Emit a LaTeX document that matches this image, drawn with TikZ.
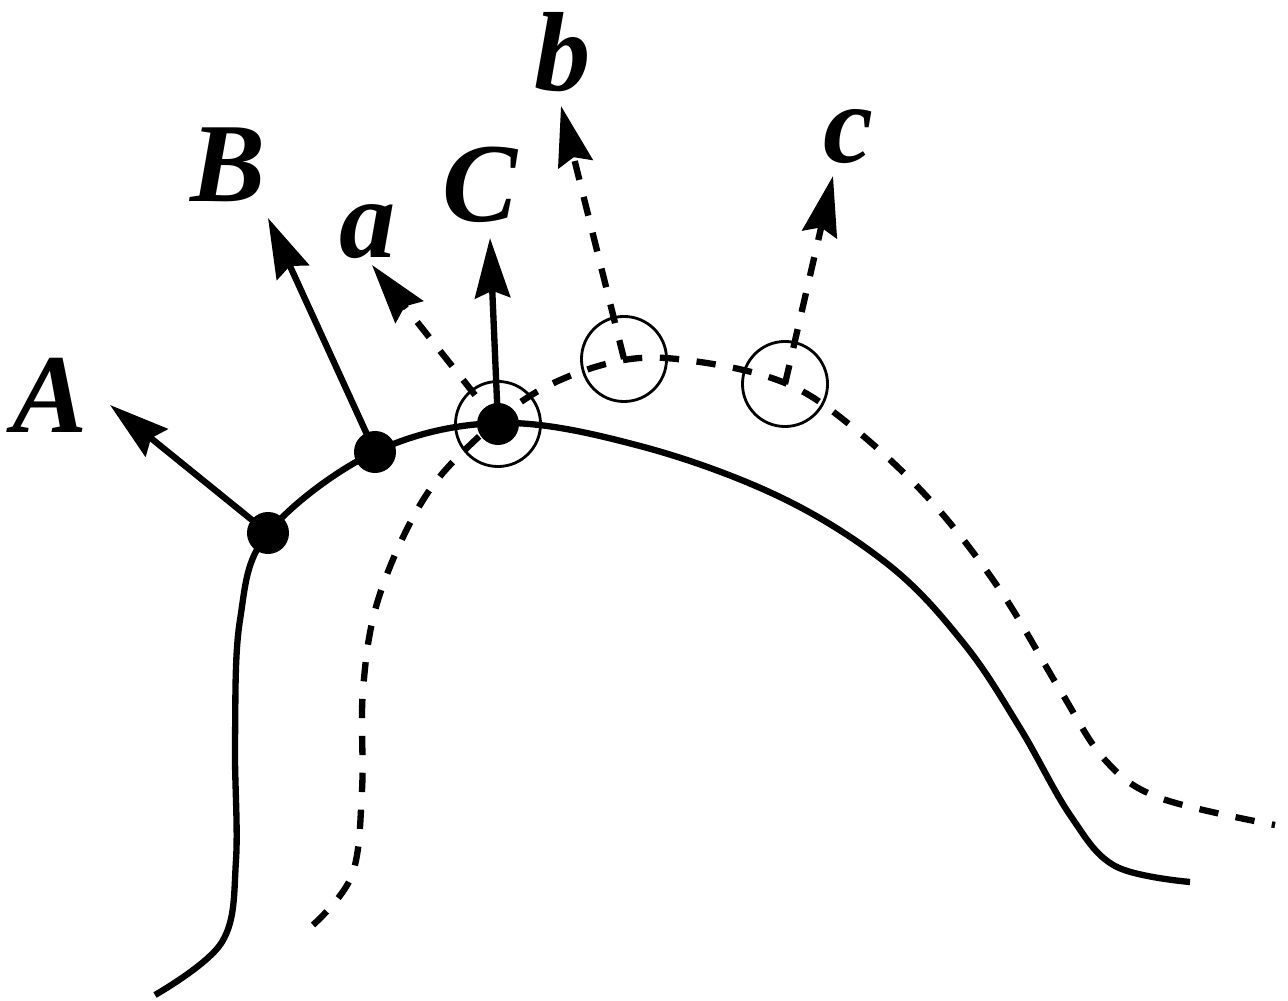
\documentclass[tikz,border=0pt]{standalone}
\usepackage{fontspec}
\setmainfont{Liberation Serif}
\usetikzlibrary{arrows.meta}
\begin{document}
\begin{tikzpicture}[x=0.01cm,y=-0.01cm,
  curve/.style={line width=1.8pt},
  dcurve/.style={line width=1.8pt,dash pattern=on 5.5pt off 5pt},
  vec/.style={line width=1.8pt,-{Stealth[length=17pt,width=10pt,inset=2pt]}},
  dvec/.style={vec,dash pattern=on 5.5pt off 5pt},
  dot/.style={circle,fill=black,inner sep=0pt,minimum size=0.42cm},
  ring/.style={circle,draw,line width=0.8pt,inner sep=0pt,minimum size=0.85cm},
  lbl/.style={font=\fontsize{32}{38}\selectfont\bfseries\itshape,inner sep=0pt}]
\useasboundingbox (0,0) rectangle (1288,1001);
% curves
\draw[curve] plot[smooth,tension=0.6] coordinates {(155,995) (222,942) (236,860) (235,740) (240,620) (268,533) (375,452) (500,423) (640,446) (780,497) (890,566) (965,645) (1020,728) (1070,815) (1115,866) (1190,882)};
\draw[dcurve] plot[smooth,tension=0.6] coordinates {(313,925) (352,875) (362,790) (363,690) (378,600) (420,505) (470,445) (540,390) (624,360) (700,362) (785,383) (850,425) (930,500) (1000,590) (1060,690) (1105,760) (1160,798) (1275,825)};
% points
\node[dot] (pA) at (268,533) {};
\node[dot] (pB) at (375,452) {};
\node[dot] (pC) at (498,424) {};
\node[ring] (rC) at (498,424) {};
\node[ring] (rb) at (624,359) {};
\node[ring] (rc) at (785,384) {};
% arrow ends
\coordinate (eA) at (110,405);
\coordinate (eB) at (268,218);
\coordinate (ea) at (372,265);
\coordinate (eC) at (490,238);
\coordinate (eb) at (561,106);
\coordinate (ec) at (833,176);
\draw[vec] (pA.center) -- (eA);
\draw[vec] (pB.center) -- (eB);
\draw[vec] (pC.center) -- (eC);
\draw[dvec] (rC.center) -- (ea);
\draw[dvec] (rb.center) -- (eb);
\draw[dvec] (rc.center) -- (ec);
% labels
\node[lbl] (lA) at (50,395) {A};
\node[lbl] (lB) at (228,165) {B};
\node[lbl] (la) at (368,232) {a};
\node[lbl] (lC) at (480,185) {C};
\node[lbl] (lb) at (563,52) {b};
\node[lbl] (lc) at (848,137) {c};
\end{tikzpicture}
\end{document}
